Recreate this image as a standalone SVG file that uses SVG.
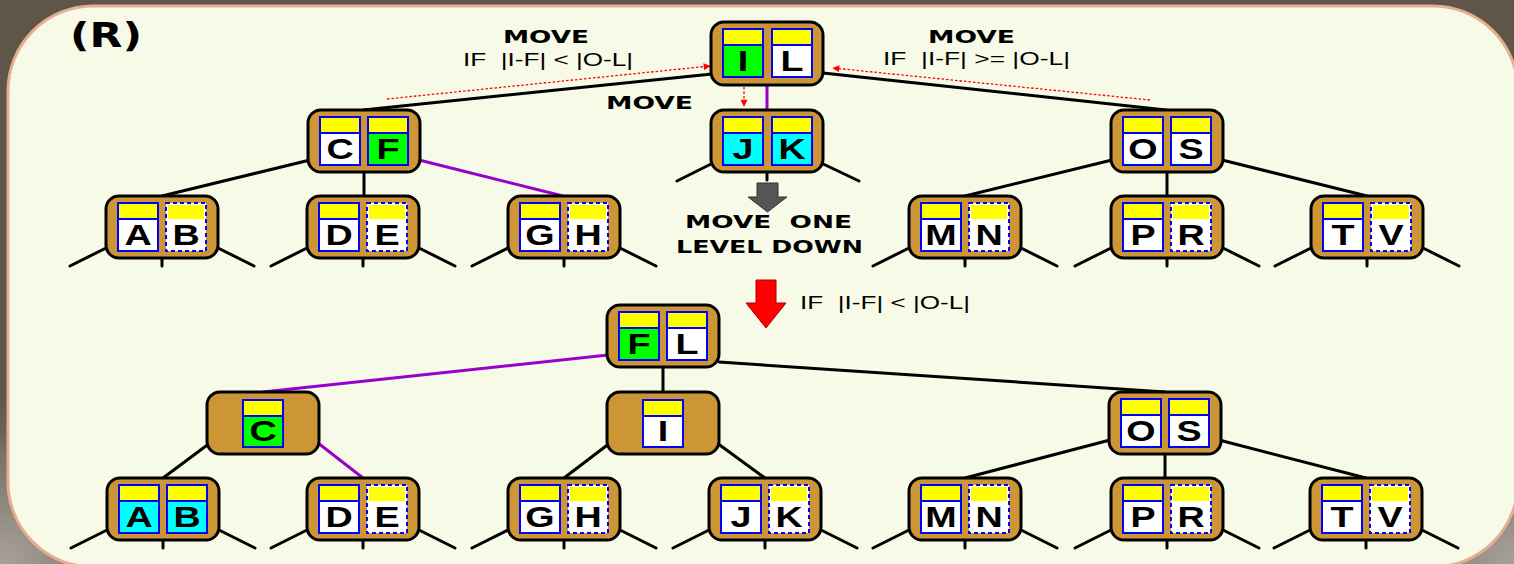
<svg xmlns="http://www.w3.org/2000/svg" width="1514" height="564" viewBox="0 0 1514 564">
  <defs>
    <radialGradient id="cornerL" cx="0" cy="1" r="1">
      <stop offset="0" stop-color="#a8a29a"/>
      <stop offset="0.6" stop-color="#7a7268"/>
      <stop offset="1" stop-color="#5f5548" stop-opacity="0"/>
    </radialGradient>
    <radialGradient id="cornerR" cx="1" cy="1" r="1">
      <stop offset="0" stop-color="#a8a29a"/>
      <stop offset="0.6" stop-color="#7a7268"/>
      <stop offset="1" stop-color="#5f5548" stop-opacity="0"/>
    </radialGradient>
    <marker id="redHead" viewBox="0 0 10 10" refX="9" refY="5" markerWidth="9" markerHeight="7" markerUnits="userSpaceOnUse" orient="auto">
      <path d="M0,0 L10,5 L0,10 Z" fill="#ff0000"/>
    </marker>
    <style>
      .node { fill: #cc9636; stroke: #000; stroke-width: 3; }
      .hdr { fill: #ffff00; }
      .w { fill: #ffffff; }
      .g { fill: #00ff00; }
      .c { fill: #00ffff; }
      .cell { fill: none; stroke: #0000ff; stroke-width: 2; }
      .dash { fill: none; stroke: #0000ff; stroke-width: 2; stroke-dasharray: 4 3; }
      .sep { stroke: #0000ff; stroke-width: 2; }
      .lt { font-family: "Liberation Sans", Arial, sans-serif; font-weight: bold; font-size: 29px; text-anchor: middle; fill: #000; }
      .edge { stroke: #000; stroke-width: 3; fill: none; stroke-linecap: round; }
      .hot { stroke: #9900cc; stroke-width: 3; fill: none; }
      .red { stroke: #ff0000; stroke-width: 1.3; stroke-dasharray: 2.5 2; fill: none; }
      .head { font-family: "DejaVu Sans", Verdana, sans-serif; font-weight: bold; font-size: 18px; fill: #000; white-space: pre; }
      .cond { font-family: "Liberation Sans", Arial, sans-serif; font-size: 19px; fill: #000; white-space: pre; }
    </style>
  </defs>

  <!-- backdrop and panel -->
  <rect x="0" y="0" width="1514" height="564" fill="#5f5548"/>
  <rect x="0" y="380" width="200" height="184" fill="url(#cornerL)"/>
  <rect x="1314" y="380" width="200" height="184" fill="url(#cornerR)"/>
  <rect x="8" y="6" width="1510" height="561" rx="85" ry="85" fill="#f8fae8" stroke="#e2b08e" stroke-width="3"/>

  <!-- captions -->
  <text class="head" x="70" y="47" textLength="72" lengthAdjust="spacingAndGlyphs" style="font-size:33px">(R)</text>
  <text class="head" x="503" y="43" textLength="86" lengthAdjust="spacingAndGlyphs">MOVE</text>
  <text class="cond" x="463" y="66" textLength="170" lengthAdjust="spacingAndGlyphs" xml:space="preserve">IF  |I-F| &lt; |O-L|</text>
  <text class="head" x="928" y="43" textLength="87" lengthAdjust="spacingAndGlyphs">MOVE</text>
  <text class="cond" x="883" y="65" textLength="187" lengthAdjust="spacingAndGlyphs" xml:space="preserve">IF  |I-F| &gt;= |O-L|</text>
  <text class="head" x="606" y="109" textLength="87" lengthAdjust="spacingAndGlyphs">MOVE</text>
  <text class="head" x="685" y="228" textLength="167" lengthAdjust="spacingAndGlyphs" xml:space="preserve">MOVE  ONE</text>
  <text class="head" x="676" y="253" textLength="187" lengthAdjust="spacingAndGlyphs">LEVEL DOWN</text>
  <text class="cond" x="800" y="309" textLength="170" lengthAdjust="spacingAndGlyphs" xml:space="preserve">IF  |I-F| &lt; |O-L|</text>

  <!-- connectors -->
  <g id="connectors">
    <!-- upper tree -->
    <path class="edge" d="M712,74 L363,110"/>
    <path class="edge" d="M823,73 L1166,110"/>
    <path class="hot" d="M767,85 L767,110"/>
    <path class="edge" d="M310,160 L162,196"/>
    <path class="edge" d="M364,172 L364,196"/>
    <path class="hot" d="M419,160 L563,196"/>
    <path class="edge" d="M1112,160 L965,196"/>
    <path class="edge" d="M1167,172 L1167,196"/>
    <path class="edge" d="M1222,160 L1367,196"/>
    <!-- stubs under JK -->
    <path class="edge" d="M715,162 L677,181 M767,172 L767,180 M819,162 L859,181"/>
    <!-- stubs under upper leaves -->
    <path class="edge" d="M110,246 L70,266 M162,258 L162,266 M214,246 L254,266"/>
    <path class="edge" d="M311,246 L271,266 M363,258 L363,266 M415,246 L455,266"/>
    <path class="edge" d="M512,246 L472,266 M564,258 L564,266 M616,246 L656,266"/>
    <path class="edge" d="M913,246 L873,266 M965,258 L965,266 M1017,246 L1057,266"/>
    <path class="edge" d="M1115,246 L1075,266 M1167,258 L1167,266 M1219,246 L1259,266"/>
    <path class="edge" d="M1315,246 L1275,266 M1367,258 L1367,266 M1419,246 L1459,266"/>
    <!-- lower tree -->
    <path class="hot" d="M608,355 L263,392"/>
    <path class="edge" d="M663,367 L663,392"/>
    <path class="edge" d="M719,362 L1165,392"/>
    <path class="edge" d="M210,443 L163,478"/>
    <path class="hot" d="M318,443 L363,478"/>
    <path class="edge" d="M610,443 L564,478"/>
    <path class="edge" d="M717,443 L765,478"/>
    <path class="edge" d="M1110,440 L965,478"/>
    <path class="edge" d="M1165,453 L1165,478"/>
    <path class="edge" d="M1219,440 L1366,478"/>
    <!-- stubs under lower leaves -->
    <path class="edge" d="M111,528 L71,548 M163,540 L163,548 M215,528 L255,548"/>
    <path class="edge" d="M311,528 L271,548 M363,540 L363,548 M415,528 L455,548"/>
    <path class="edge" d="M512,528 L472,548 M564,540 L564,548 M616,528 L656,548"/>
    <path class="edge" d="M713,528 L673,548 M765,540 L765,548 M817,528 L857,548"/>
    <path class="edge" d="M913,528 L873,548 M965,540 L965,548 M1017,528 L1057,548"/>
    <path class="edge" d="M1115,528 L1075,548 M1167,540 L1167,548 M1219,528 L1259,548"/>
    <path class="edge" d="M1314,528 L1274,548 M1366,540 L1366,548 M1418,528 L1458,548"/>
    <!-- red dotted moves -->
    <path class="red" d="M387,99 L710,66" marker-end="url(#redHead)"/>
    <path class="red" d="M1150,100 L833,68" marker-end="url(#redHead)"/>
    <path class="red" d="M744,78 L744,106" marker-end="url(#redHead)"/>
    <!-- block arrows -->
    <polygon points="757,183 778,183 778,197 787,197 767.5,212 748,197 757,197" fill="#555555" stroke="#333333" stroke-width="1"/>
    <polygon points="756,280 776,280 776,303 786,303 766,328 746,303 756,303" fill="#ff0000" stroke="#b00000" stroke-width="1"/>
  </g>

  <!-- upper tree nodes -->
  <g id="node-IL" transform="translate(711,22)">
    <rect class="node" width="112" height="63" rx="13"/>
    <rect class="hdr" x="12" y="7" width="40" height="16"/><rect class="g" x="12" y="23" width="40" height="32"/>
    <rect class="cell" x="12" y="7" width="40" height="48"/><line class="sep" x1="12" y1="23" x2="52" y2="23"/>
    <text class="lt" transform="translate(32,49) scale(1.3,1)">I</text>
    <rect class="hdr" x="61" y="7" width="40" height="16"/><rect class="w" x="61" y="23" width="40" height="32"/>
    <rect class="cell" x="61" y="7" width="40" height="48"/><line class="sep" x1="61" y1="23" x2="101" y2="23"/>
    <text class="lt" transform="translate(81,49) scale(1.3,1)">L</text>
  </g>

  <g id="node-CF" transform="translate(308,110)">
    <rect class="node" width="112" height="62" rx="13"/>
    <rect class="hdr" x="12" y="7" width="40" height="16"/><rect class="w" x="12" y="23" width="40" height="32"/>
    <rect class="cell" x="12" y="7" width="40" height="48"/><line class="sep" x1="12" y1="23" x2="52" y2="23"/>
    <text class="lt" transform="translate(32,49) scale(1.3,1)">C</text>
    <rect class="hdr" x="60" y="7" width="40" height="16"/><rect class="g" x="60" y="23" width="40" height="32"/>
    <rect class="cell" x="60" y="7" width="40" height="48"/><line class="sep" x1="60" y1="23" x2="100" y2="23"/>
    <text class="lt" transform="translate(80,49) scale(1.3,1)">F</text>
  </g>

  <g id="node-JK" transform="translate(711,110)">
    <rect class="node" width="112" height="62" rx="13"/>
    <rect class="hdr" x="12" y="7" width="40" height="16"/><rect class="c" x="12" y="23" width="40" height="32"/>
    <rect class="cell" x="12" y="7" width="40" height="48"/><line class="sep" x1="12" y1="23" x2="52" y2="23"/>
    <text class="lt" transform="translate(32,49) scale(1.3,1)">J</text>
    <rect class="hdr" x="61" y="7" width="40" height="16"/><rect class="c" x="61" y="23" width="40" height="32"/>
    <rect class="cell" x="61" y="7" width="40" height="48"/><line class="sep" x1="61" y1="23" x2="101" y2="23"/>
    <text class="lt" transform="translate(81,49) scale(1.3,1)">K</text>
  </g>

  <g id="node-OS" transform="translate(1111,110)">
    <rect class="node" width="112" height="62" rx="13"/>
    <rect class="hdr" x="12" y="7" width="40" height="16"/><rect class="w" x="12" y="23" width="40" height="32"/>
    <rect class="cell" x="12" y="7" width="40" height="48"/><line class="sep" x1="12" y1="23" x2="52" y2="23"/>
    <text class="lt" transform="translate(32,49) scale(1.3,1)">O</text>
    <rect class="hdr" x="60" y="7" width="40" height="16"/><rect class="w" x="60" y="23" width="40" height="32"/>
    <rect class="cell" x="60" y="7" width="40" height="48"/><line class="sep" x1="60" y1="23" x2="100" y2="23"/>
    <text class="lt" transform="translate(80,49) scale(1.3,1)">S</text>
  </g>

  <!-- upper leaves -->
  <g id="leaf-AB" transform="translate(106,196)">
    <rect class="node" width="112" height="62" rx="13"/>
    <rect class="hdr" x="12" y="7" width="40" height="16"/><rect class="w" x="12" y="23" width="40" height="32"/>
    <rect class="cell" x="12" y="7" width="40" height="48"/><line class="sep" x1="12" y1="23" x2="52" y2="23"/>
    <text class="lt" transform="translate(32,49) scale(1.3,1)">A</text>
    <rect class="w" x="60" y="7" width="40" height="48"/><rect class="hdr" x="62" y="9" width="36" height="14"/>
    <rect class="dash" x="60" y="7" width="40" height="48"/>
    <text class="lt" transform="translate(80,49) scale(1.3,1)">B</text>
  </g>

  <g id="leaf-DE" transform="translate(307,196)">
    <rect class="node" width="112" height="62" rx="13"/>
    <rect class="hdr" x="12" y="7" width="40" height="16"/><rect class="w" x="12" y="23" width="40" height="32"/>
    <rect class="cell" x="12" y="7" width="40" height="48"/><line class="sep" x1="12" y1="23" x2="52" y2="23"/>
    <text class="lt" transform="translate(32,49) scale(1.3,1)">D</text>
    <rect class="w" x="60" y="7" width="40" height="48"/><rect class="hdr" x="62" y="9" width="36" height="14"/>
    <rect class="dash" x="60" y="7" width="40" height="48"/>
    <text class="lt" transform="translate(80,49) scale(1.3,1)">E</text>
  </g>

  <g id="leaf-GH" transform="translate(508,196)">
    <rect class="node" width="112" height="62" rx="13"/>
    <rect class="hdr" x="12" y="7" width="40" height="16"/><rect class="w" x="12" y="23" width="40" height="32"/>
    <rect class="cell" x="12" y="7" width="40" height="48"/><line class="sep" x1="12" y1="23" x2="52" y2="23"/>
    <text class="lt" transform="translate(32,49) scale(1.3,1)">G</text>
    <rect class="w" x="60" y="7" width="40" height="48"/><rect class="hdr" x="62" y="9" width="36" height="14"/>
    <rect class="dash" x="60" y="7" width="40" height="48"/>
    <text class="lt" transform="translate(80,49) scale(1.3,1)">H</text>
  </g>

  <g id="leaf-MN" transform="translate(909,196)">
    <rect class="node" width="112" height="62" rx="13"/>
    <rect class="hdr" x="12" y="7" width="40" height="16"/><rect class="w" x="12" y="23" width="40" height="32"/>
    <rect class="cell" x="12" y="7" width="40" height="48"/><line class="sep" x1="12" y1="23" x2="52" y2="23"/>
    <text class="lt" transform="translate(32,49) scale(1.3,1)">M</text>
    <rect class="w" x="60" y="7" width="40" height="48"/><rect class="hdr" x="62" y="9" width="36" height="14"/>
    <rect class="dash" x="60" y="7" width="40" height="48"/>
    <text class="lt" transform="translate(80,49) scale(1.3,1)">N</text>
  </g>

  <g id="leaf-PR" transform="translate(1111,196)">
    <rect class="node" width="112" height="62" rx="13"/>
    <rect class="hdr" x="12" y="7" width="40" height="16"/><rect class="w" x="12" y="23" width="40" height="32"/>
    <rect class="cell" x="12" y="7" width="40" height="48"/><line class="sep" x1="12" y1="23" x2="52" y2="23"/>
    <text class="lt" transform="translate(32,49) scale(1.3,1)">P</text>
    <rect class="w" x="60" y="7" width="40" height="48"/><rect class="hdr" x="62" y="9" width="36" height="14"/>
    <rect class="dash" x="60" y="7" width="40" height="48"/>
    <text class="lt" transform="translate(80,49) scale(1.3,1)">R</text>
  </g>

  <g id="leaf-TV" transform="translate(1311,196)">
    <rect class="node" width="112" height="62" rx="13"/>
    <rect class="hdr" x="12" y="7" width="40" height="16"/><rect class="w" x="12" y="23" width="40" height="32"/>
    <rect class="cell" x="12" y="7" width="40" height="48"/><line class="sep" x1="12" y1="23" x2="52" y2="23"/>
    <text class="lt" transform="translate(32,49) scale(1.3,1)">T</text>
    <rect class="w" x="60" y="7" width="40" height="48"/><rect class="hdr" x="62" y="9" width="36" height="14"/>
    <rect class="dash" x="60" y="7" width="40" height="48"/>
    <text class="lt" transform="translate(80,49) scale(1.3,1)">V</text>
  </g>

  <!-- lower tree nodes -->
  <g id="node-FL" transform="translate(607,305)">
    <rect class="node" width="112" height="62" rx="13"/>
    <rect class="hdr" x="12" y="7" width="40" height="16"/><rect class="g" x="12" y="23" width="40" height="32"/>
    <rect class="cell" x="12" y="7" width="40" height="48"/><line class="sep" x1="12" y1="23" x2="52" y2="23"/>
    <text class="lt" transform="translate(32,49) scale(1.3,1)">F</text>
    <rect class="hdr" x="60" y="7" width="40" height="16"/><rect class="w" x="60" y="23" width="40" height="32"/>
    <rect class="cell" x="60" y="7" width="40" height="48"/><line class="sep" x1="60" y1="23" x2="100" y2="23"/>
    <text class="lt" transform="translate(80,49) scale(1.3,1)">L</text>
  </g>

  <g id="node-C" transform="translate(207,392)">
    <rect class="node" width="112" height="62" rx="13"/>
    <rect class="hdr" x="36" y="8" width="40" height="16"/><rect class="g" x="36" y="24" width="40" height="31"/>
    <rect class="cell" x="36" y="8" width="40" height="47"/><line class="sep" x1="36" y1="24" x2="76" y2="24"/>
    <text class="lt" transform="translate(56,49) scale(1.3,1)">C</text>
  </g>

  <g id="node-I" transform="translate(607,392)">
    <rect class="node" width="112" height="62" rx="13"/>
    <rect class="hdr" x="36" y="8" width="40" height="16"/><rect class="w" x="36" y="24" width="40" height="31"/>
    <rect class="cell" x="36" y="8" width="40" height="47"/><line class="sep" x1="36" y1="24" x2="76" y2="24"/>
    <text class="lt" transform="translate(56,49) scale(1.3,1)">I</text>
  </g>

  <g id="node-OS2" transform="translate(1109,392)">
    <rect class="node" width="112" height="62" rx="13"/>
    <rect class="hdr" x="12" y="7" width="40" height="16"/><rect class="w" x="12" y="23" width="40" height="32"/>
    <rect class="cell" x="12" y="7" width="40" height="48"/><line class="sep" x1="12" y1="23" x2="52" y2="23"/>
    <text class="lt" transform="translate(32,49) scale(1.3,1)">O</text>
    <rect class="hdr" x="60" y="7" width="40" height="16"/><rect class="w" x="60" y="23" width="40" height="32"/>
    <rect class="cell" x="60" y="7" width="40" height="48"/><line class="sep" x1="60" y1="23" x2="100" y2="23"/>
    <text class="lt" transform="translate(80,49) scale(1.3,1)">S</text>
  </g>

  <!-- lower leaves -->
  <g id="leaf-AB2" transform="translate(107,478)">
    <rect class="node" width="112" height="62" rx="13"/>
    <rect class="hdr" x="12" y="7" width="40" height="16"/><rect class="c" x="12" y="23" width="40" height="32"/>
    <rect class="cell" x="12" y="7" width="40" height="48"/><line class="sep" x1="12" y1="23" x2="52" y2="23"/>
    <text class="lt" transform="translate(32,49) scale(1.3,1)">A</text>
    <rect class="hdr" x="60" y="7" width="40" height="16"/><rect class="c" x="60" y="23" width="40" height="32"/>
    <rect class="cell" x="60" y="7" width="40" height="48"/><line class="sep" x1="60" y1="23" x2="100" y2="23"/>
    <text class="lt" transform="translate(80,49) scale(1.3,1)">B</text>
  </g>

  <g id="leaf-DE2" transform="translate(307,478)">
    <rect class="node" width="112" height="62" rx="13"/>
    <rect class="hdr" x="12" y="7" width="40" height="16"/><rect class="w" x="12" y="23" width="40" height="32"/>
    <rect class="cell" x="12" y="7" width="40" height="48"/><line class="sep" x1="12" y1="23" x2="52" y2="23"/>
    <text class="lt" transform="translate(32,49) scale(1.3,1)">D</text>
    <rect class="w" x="60" y="7" width="40" height="48"/><rect class="hdr" x="62" y="9" width="36" height="14"/>
    <rect class="dash" x="60" y="7" width="40" height="48"/>
    <text class="lt" transform="translate(80,49) scale(1.3,1)">E</text>
  </g>

  <g id="leaf-GH2" transform="translate(508,478)">
    <rect class="node" width="112" height="62" rx="13"/>
    <rect class="hdr" x="12" y="7" width="40" height="16"/><rect class="w" x="12" y="23" width="40" height="32"/>
    <rect class="cell" x="12" y="7" width="40" height="48"/><line class="sep" x1="12" y1="23" x2="52" y2="23"/>
    <text class="lt" transform="translate(32,49) scale(1.3,1)">G</text>
    <rect class="w" x="60" y="7" width="40" height="48"/><rect class="hdr" x="62" y="9" width="36" height="14"/>
    <rect class="dash" x="60" y="7" width="40" height="48"/>
    <text class="lt" transform="translate(80,49) scale(1.3,1)">H</text>
  </g>

  <g id="leaf-JK2" transform="translate(709,478)">
    <rect class="node" width="112" height="62" rx="13"/>
    <rect class="hdr" x="12" y="7" width="40" height="16"/><rect class="w" x="12" y="23" width="40" height="32"/>
    <rect class="cell" x="12" y="7" width="40" height="48"/><line class="sep" x1="12" y1="23" x2="52" y2="23"/>
    <text class="lt" transform="translate(32,49) scale(1.3,1)">J</text>
    <rect class="w" x="60" y="7" width="40" height="48"/><rect class="hdr" x="62" y="9" width="36" height="14"/>
    <rect class="dash" x="60" y="7" width="40" height="48"/>
    <text class="lt" transform="translate(80,49) scale(1.3,1)">K</text>
  </g>

  <g id="leaf-MN2" transform="translate(909,478)">
    <rect class="node" width="112" height="62" rx="13"/>
    <rect class="hdr" x="12" y="7" width="40" height="16"/><rect class="w" x="12" y="23" width="40" height="32"/>
    <rect class="cell" x="12" y="7" width="40" height="48"/><line class="sep" x1="12" y1="23" x2="52" y2="23"/>
    <text class="lt" transform="translate(32,49) scale(1.3,1)">M</text>
    <rect class="w" x="60" y="7" width="40" height="48"/><rect class="hdr" x="62" y="9" width="36" height="14"/>
    <rect class="dash" x="60" y="7" width="40" height="48"/>
    <text class="lt" transform="translate(80,49) scale(1.3,1)">N</text>
  </g>

  <g id="leaf-PR2" transform="translate(1111,478)">
    <rect class="node" width="112" height="62" rx="13"/>
    <rect class="hdr" x="12" y="7" width="40" height="16"/><rect class="w" x="12" y="23" width="40" height="32"/>
    <rect class="cell" x="12" y="7" width="40" height="48"/><line class="sep" x1="12" y1="23" x2="52" y2="23"/>
    <text class="lt" transform="translate(32,49) scale(1.3,1)">P</text>
    <rect class="w" x="60" y="7" width="40" height="48"/><rect class="hdr" x="62" y="9" width="36" height="14"/>
    <rect class="dash" x="60" y="7" width="40" height="48"/>
    <text class="lt" transform="translate(80,49) scale(1.3,1)">R</text>
  </g>

  <g id="leaf-TV2" transform="translate(1310,478)">
    <rect class="node" width="112" height="62" rx="13"/>
    <rect class="hdr" x="12" y="7" width="40" height="16"/><rect class="w" x="12" y="23" width="40" height="32"/>
    <rect class="cell" x="12" y="7" width="40" height="48"/><line class="sep" x1="12" y1="23" x2="52" y2="23"/>
    <text class="lt" transform="translate(32,49) scale(1.3,1)">T</text>
    <rect class="w" x="60" y="7" width="40" height="48"/><rect class="hdr" x="62" y="9" width="36" height="14"/>
    <rect class="dash" x="60" y="7" width="40" height="48"/>
    <text class="lt" transform="translate(80,49) scale(1.3,1)">V</text>
  </g>
</svg>
